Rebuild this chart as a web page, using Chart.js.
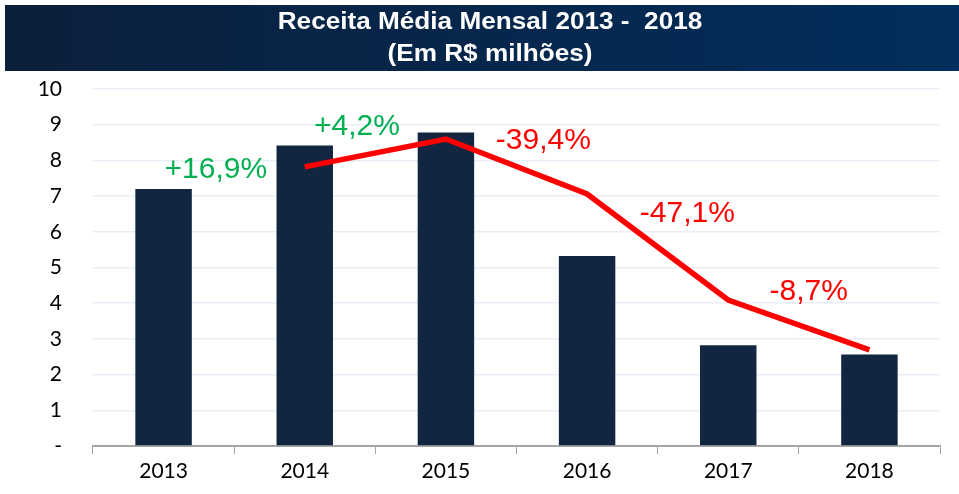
<!DOCTYPE html>
<html>
<head>
<meta charset="utf-8">
<script src="https://cdn.jsdelivr.net/npm/chart.js@4.4.1/dist/chart.umd.min.js"></script>
<style>
html,body{margin:0;padding:0;background:#fff;overflow:hidden;}
</style>
</head>
<body>
<canvas id="chart" width="959" height="494"></canvas>
<script>
// data
const years = ["2013","2014","2015","2016","2017","2018"];
const receita = [7.2, 8.42, 8.78, 5.32, 2.82, 2.56];
const tendencia = [null, 7.82, 8.6, 7.06, 4.09, 2.69];
const variacao = ["+16,9%","+4,2%","-39,4%","-47,1%","-8,7%"];
const variacaoCor = ["#00b050","#00b050","#ff0000","#ff0000","#ff0000"];
const titulo = ["Receita Média Mensal 2013 -  2018","(Em R$ milhões)"];

// where each % label sits (category index, value)
const labelPos = [[0.37,7.73],[1.37,8.94],[2.69,8.54],[3.71,6.5],[4.57,4.31]];

const overlay = {
  id:"overlay",
  afterDraw(chart){
    const ctx = chart.ctx;
    const xs = chart.scales.x, ys = chart.scales.y;
    // title bar
    const g = ctx.createLinearGradient(5,0,959,0);
    g.addColorStop(0,"#0b1f3b");
    g.addColorStop(1,"#012e5c");
    ctx.save();
    ctx.fillStyle = g;
    ctx.fillRect(5,5,954,66);
    ctx.fillStyle = "#fff";
    ctx.font = "bold 24px 'Liberation Sans', Arial, sans-serif";
    ctx.textAlign = "center";
    ctx.textBaseline = "middle";
    ctx.save();
    ctx.translate(490,0);
    ctx.scale(1.09,1);
    ctx.fillText(titulo[0],0,22);
    ctx.fillText(titulo[1],0,54);
    ctx.restore();
    // % labels
    ctx.font = "30px 'Liberation Sans', Arial, sans-serif";
    const step = xs.getPixelForValue(1) - xs.getPixelForValue(0);
    variacao.forEach((t,i)=>{
      const px = xs.getPixelForValue(0) + labelPos[i][0]*step;
      const py = ys.getPixelForValue(labelPos[i][1]);
      ctx.fillStyle = variacaoCor[i];
      ctx.fillText(t,px,py);
    });
    ctx.restore();
  }
};

new Chart(document.getElementById("chart"),{
  type:"bar",
  data:{
    labels:years,
    datasets:[
      {
        type:"line",
        data:tendencia,
        borderColor:"#ff0000",
        borderWidth:5.5,
        pointRadius:0,
        tension:0,
        order:0
      },
      {
        data:receita,
        backgroundColor:"#132641",
        categoryPercentage:1,
        barPercentage:0.4,
        order:1
      }
    ]
  },
  options:{
    responsive:false,
    animation:false,
    devicePixelRatio:1,
    layout:{padding:{top:89,left:0,right:19,bottom:0}},
    plugins:{legend:{display:false},tooltip:{enabled:false}},
    scales:{
      x:{
        afterFit(s){ s.height = 48; },
        grid:{drawOnChartArea:false,drawTicks:true,tickLength:8,color:"#a6a6a6",offset:true},
        border:{color:"#a6a6a6",width:2},
        ticks:{color:"#000",font:{family:"Lato, 'Open Sans', sans-serif",size:21},padding:5}
      },
      y:{
        min:0,max:10,
        afterFit(s){ s.width = 93; },
        grid:{color:"#e8eef5",drawTicks:false,lineWidth:1.5},
        border:{display:false},
        ticks:{stepSize:1,color:"#000",padding:31,
          font:{family:"Lato, 'Open Sans', sans-serif",size:21},
          callback:v=> v===0 ? "-" : v}
      }
    }
  },
  plugins:[overlay]
});
</script>
</body>
</html>
